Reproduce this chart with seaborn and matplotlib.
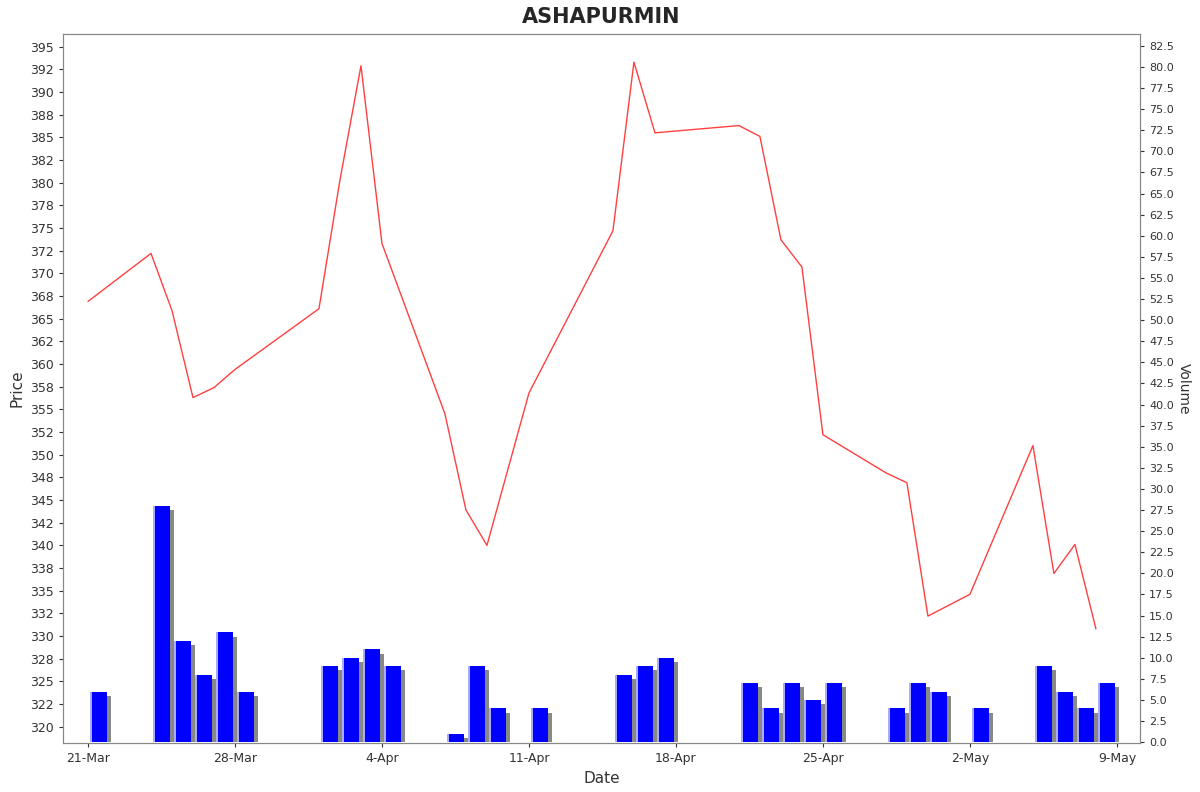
import matplotlib
matplotlib.use("Agg")
import matplotlib.pyplot as plt
import matplotlib.ticker as mticker
import seaborn as sns
import pandas as pd

dates = ["2024-03-21","2024-03-24","2024-03-25","2024-03-26","2024-03-27","2024-03-28",
         "2024-04-01","2024-04-02","2024-04-03","2024-04-04","2024-04-07","2024-04-08",
         "2024-04-09","2024-04-11","2024-04-15","2024-04-16","2024-04-17","2024-04-21",
         "2024-04-22","2024-04-23","2024-04-24","2024-04-25","2024-04-28","2024-04-29",
         "2024-04-30","2024-05-02","2024-05-05","2024-05-06","2024-05-07","2024-05-08"]
price = [366.9,372.2,365.9,356.3,357.4,359.4,366.1,380.3,392.9,373.3,354.5,343.9,
         340.0,356.8,374.7,393.3,385.5,386.3,385.1,373.7,370.7,352.2,348.0,346.9,
         332.2,334.6,351.0,336.9,340.1,330.8]
volume = [6,28,12,8,13,6,9,10,11,9,1,9,4,4,8,9,10,7,4,7,5,7,4,7,6,4,9,6,4,7]

df = pd.DataFrame({"Date": pd.to_datetime(dates), "Price": price, "Volume": volume})

sns.set_style("white")
fig = plt.figure(figsize=(12, 7.92), dpi=100)
ax = fig.add_axes([63/1200, 1-743/792, (1140-63)/1200, (743-34)/792])
ax2 = ax.twinx()
ax.set_zorder(2); ax2.set_zorder(1); ax.patch.set_visible(False)

off = pd.Timedelta(hours=12)
ax2.bar(df["Date"] + off + pd.Timedelta(hours=5), df["Volume"] - 0.5, width=0.8,
        color="#888888", linewidth=0)
ax2.bar(df["Date"] + off, df["Volume"], width=0.8, color="#0000ff", linewidth=0)
ax2.bar(df["Date"] + off - pd.Timedelta(hours=8.6), df["Volume"], width=0.06,
        color="#aaaaff", linewidth=0)

sns.lineplot(data=df, x="Date", y="Price", ax=ax, color="#ff4040", linewidth=1)

x0 = pd.Timestamp("2024-03-21")
ax.set_xlim(x0 - pd.Timedelta(days=1.19), x0 + pd.Timedelta(days=50.1))
ax.set_ylim(318.2, 396.4)
ax2.set_ylim(-0.1, 83.9)
ax.yaxis.set_major_locator(mticker.MultipleLocator(2.5))
ax.yaxis.set_major_formatter(mticker.FuncFormatter(lambda v, p: f"{v:.0f}"))
ax2.yaxis.set_major_locator(mticker.MultipleLocator(2.5))
ax2.yaxis.set_major_formatter(mticker.FormatStrFormatter("%.1f"))
ticks = pd.date_range("2024-03-21", "2024-05-09", freq="7D")
ax.set_xticks(ticks)
ax.set_xticklabels([f"{t.day}-{t.strftime('%b')}" for t in ticks])

for a in (ax, ax2):
    for s in a.spines.values():
        s.set_color("#888888"); s.set_linewidth(0.8)
ax.tick_params(axis="both", labelsize=9, length=3, left=True, bottom=True, colors="#333333")
ax2.tick_params(axis="y", labelsize=8, length=3, right=True, colors="#333333")
ax.set_xlabel("Date", fontsize=11, color="#333333")
ax.set_ylabel("Price", fontsize=11, color="#333333")
ax2.set_ylabel("Volume", fontsize=10, rotation=270, labelpad=12, color="#333333")
ax.set_title("ASHAPURMIN", fontsize=15, fontweight="bold", pad=8)

fig.savefig("out.png", dpi=100)
